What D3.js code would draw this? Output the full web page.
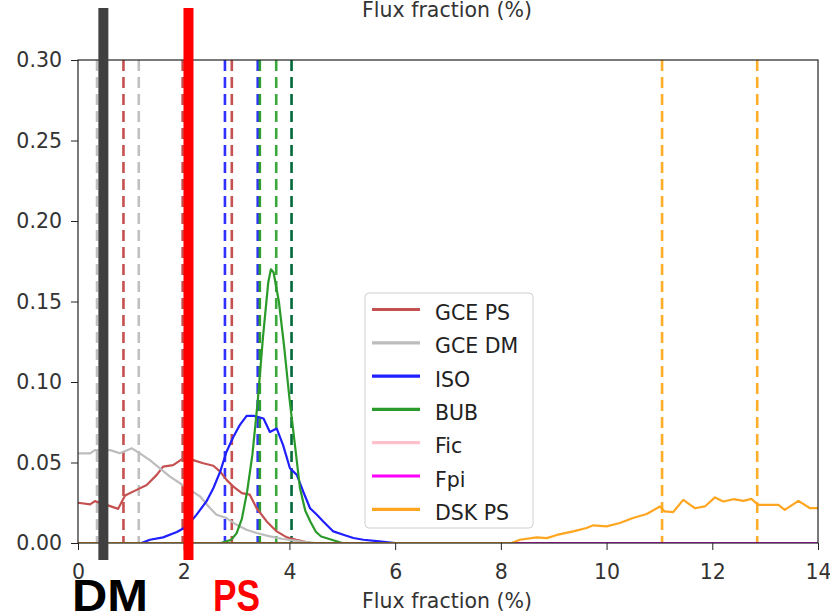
<!DOCTYPE html>
<html>
<head>
<meta charset="utf-8">
<script src="https://cdn.jsdelivr.net/npm/d3@7"></script>
<style>
  body { margin: 0; background: #fff; }
  svg { display: block; }
</style>
</head>
<body>
<script>
// Flux fraction (%) vs value, one curve per template: [x, y] pairs
const gcePS = [[0,0.025],[0.23,0.024],[0.32,0.026],[0.54,0.0237],[0.76,0.0212],[0.89,0.0295],[1.11,0.033],[1.3,0.036],[1.49,0.0423],[1.61,0.0474],[1.8,0.0484],[1.99,0.0526],[2.18,0.0515],[2.37,0.0495],[2.56,0.048],[2.69,0.0443],[2.81,0.0392],[2.94,0.035],[3.1,0.031],[3.25,0.03],[3.38,0.0216],[3.57,0.0134],[3.76,0.0072],[3.95,0.0035],[4.13,0.002],[4.4,0],[14,0]];
const gceDM = [[0,0.0557],[0.23,0.0557],[0.32,0.0577],[0.61,0.0577],[0.79,0.0557],[1.02,0.0588],[1.17,0.0557],[1.36,0.0515],[1.55,0.0464],[1.74,0.0412],[1.93,0.0371],[2.12,0.033],[2.31,0.0289],[2.5,0.0216],[2.62,0.0175],[2.81,0.0155],[3.0,0.0113],[3.19,0.0082],[3.38,0.0062],[3.63,0.0041],[3.88,0.0025],[4.2,0.001],[4.5,0],[14,0]];
const iso = [[0,0],[1.2,0],[1.36,0.002],[1.61,0.0035],[1.87,0.0068],[2.06,0.0103],[2.24,0.0175],[2.43,0.0258],[2.56,0.034],[2.69,0.0443],[2.81,0.0567],[2.94,0.066],[3.06,0.0732],[3.19,0.079],[3.32,0.079],[3.51,0.0773],[3.63,0.069],[3.76,0.0711],[3.88,0.0608],[4.01,0.0464],[4.14,0.0423],[4.26,0.032],[4.39,0.0216],[4.52,0.0175],[4.64,0.0134],[4.83,0.0072],[5.02,0.0051],[5.21,0.0031],[5.4,0.002],[5.7,0.001],[6.0,0],[14,0]];
const bub = [[0,0],[2.7,0],[2.9,0.002],[3.0,0.006],[3.1,0.015],[3.2,0.032],[3.3,0.055],[3.4,0.088],[3.5,0.128],[3.6,0.162],[3.65,0.17],[3.7,0.168],[3.8,0.15],[3.9,0.122],[4.0,0.09],[4.1,0.062],[4.2,0.034],[4.3,0.02],[4.4,0.013],[4.5,0.007],[4.6,0.004],[4.8,0.002],[5.0,0],[14,0]];
const fic = [[0,0],[14,0]];
const fpi = [[0,0],[14,0]];
const dskPS = [[0,0],[8.2,0],[8.36,0.002],[8.68,0.0035],[8.87,0.003],[9.06,0.005],[9.37,0.0072],[9.62,0.0093],[9.75,0.011],[10.0,0.0103],[10.25,0.0124],[10.5,0.0155],[10.76,0.018],[11.01,0.0227],[11.1,0.0196],[11.26,0.0192],[11.45,0.0268],[11.67,0.0216],[11.86,0.0227],[12.05,0.0283],[12.21,0.0258],[12.4,0.0272],[12.59,0.0262],[12.74,0.0274],[12.87,0.0237],[13.03,0.0237],[13.25,0.0237],[13.37,0.0206],[13.63,0.0262],[13.85,0.0216],[14,0.0216]];

const seriesNames = ["GCE PS", "GCE DM", "ISO", "BUB", "Fic", "Fpi", "DSK PS"];
const seriesData = [gcePS, gceDM, iso, bub, fic, fpi, dskPS];
const seriesColors = ["#c55050", "#bdbdbd", "#1f1fff", "#2a9a2a", "#ffc0cb", "#ff00ff", "#ffa51f"];

// dashed vertical markers (x position, colour)
const markerX = [0.36, 1.15, 0.86, 1.98, 2.91, 2.78, 3.40, 3.44, 3.75, 4.04, 11.05, 12.85];
const markerColors = ["#c0c0c0", "#c0c0c0", "#c55050", "#c55050", "#c55050", "#3030ff", "#3030ff", "#2f9f2f", "#3aa83a", "#00693a", "#ffae2a", "#ffae2a"];

// the two thick bars drawn over the chart
const barLabels = ["DM", "PS"];
const barX = [0.48, 2.09];
const barColors = ["#404040", "#ff0000"];
const labelColors = ["#000000", "#ff0000"];

const xTicks = [0, 2, 4, 6, 8, 10, 12, 14];
const yTicks = [0, 0.05, 0.10, 0.15, 0.20, 0.25, 0.30];

const width = 830, height = 616;
const mLeft = 78, mRight = 818, mTop = 60, mBottom = 543;

const svg = d3.select("body").append("svg")
    .attr("width", width)
    .attr("height", height)
    .style("font-family", "'DejaVu Sans', sans-serif");

const x = d3.scaleLinear().domain([0, 14]).range([mLeft, mRight]);
const y = d3.scaleLinear().domain([0, 0.30]).range([mBottom, mTop]);

svg.append("clipPath").attr("id", "clip")
    .append("rect")
    .attr("x", mLeft).attr("y", mTop)
    .attr("width", mRight - mLeft).attr("height", mBottom - mTop);

const plot = svg.append("g").attr("clip-path", "url(#clip)");

// dashed lines
plot.selectAll(".marker")
    .data(markerX)
    .enter()
    .append("line")
    .attr("class", "marker")
    .attr("x1", d => x(d)).attr("x2", d => x(d))
    .attr("y1", y(0.30)).attr("y2", y(0))
    .attr("stroke", (d, i) => markerColors[i])
    .attr("stroke-width", 2.6)
    .attr("stroke-dasharray", "11,6");

// curves
const line = d3.line().x(d => x(d[0])).y(d => y(d[1]));
plot.selectAll(".curve")
    .data(seriesData)
    .enter()
    .append("path")
    .attr("class", "curve")
    .attr("d", line)
    .attr("fill", "none")
    .attr("stroke", (d, i) => seriesColors[i])
    .attr("stroke-width", 2.2)
    .attr("stroke-linejoin", "round");

// axes
const xAxis = d3.axisBottom(x).tickValues(xTicks).tickFormat(d3.format("d")).tickSize(7).tickPadding(14);
const yAxis = d3.axisLeft(y).tickValues(yTicks).tickFormat(d3.format(".2f")).tickSize(7).tickPadding(9);

const gx = svg.append("g")
    .attr("transform", "translate(0," + mBottom + ")")
    .call(xAxis);
const gy = svg.append("g")
    .attr("transform", "translate(" + mLeft + ",0)")
    .call(yAxis);

[gx, gy].forEach(g => {
    g.select(".domain").remove();
    g.selectAll("line").attr("stroke", "#222");
    g.selectAll("text").style("font-size", "20.5px").attr("fill", "#333")
        .style("font-family", "'DejaVu Sans', sans-serif");
});

// frame
svg.append("rect")
    .attr("x", mLeft).attr("y", mTop)
    .attr("width", mRight - mLeft).attr("height", mBottom - mTop)
    .attr("fill", "none")
    .attr("stroke", "#222")
    .attr("stroke-width", 1.2);

// axis labels (top one is cut by the edge)
svg.append("text")
    .attr("x", 447).attr("y", 608)
    .attr("text-anchor", "middle")
    .style("font-size", "20.5px")
    .attr("fill", "#333")
    .text("Flux fraction (%)");

svg.append("text")
    .attr("x", 447).attr("y", 17)
    .attr("text-anchor", "middle")
    .style("font-size", "20.5px")
    .attr("fill", "#333")
    .text("Flux fraction (%)");

// legend
const legend = svg.append("g").attr("transform", "translate(365,293)");
legend.append("rect")
    .attr("width", 168).attr("height", 235)
    .attr("rx", 4)
    .attr("fill", "#fff").attr("fill-opacity", 0.85)
    .attr("stroke", "#d0d0d0");

const items = legend.selectAll(".legend-item")
    .data(seriesNames)
    .enter()
    .append("g")
    .attr("class", "legend-item")
    .attr("transform", (d, i) => "translate(0," + (16.5 + i * 33.3) + ")");

items.append("line")
    .attr("x1", 7).attr("x2", 55)
    .attr("stroke", (d, i) => seriesColors[i])
    .attr("stroke-width", 3.2);

items.append("text")
    .attr("x", 70).attr("y", 10.5)
    .style("font-size", "20.5px")
    .attr("fill", "#222")
    .text(d => d);

// thick bars and their labels
svg.selectAll(".bar")
    .data(barX)
    .enter()
    .append("rect")
    .attr("class", "bar")
    .attr("x", d => x(d) - 5)
    .attr("y", 8)
    .attr("width", 10)
    .attr("height", 552)
    .attr("fill", (d, i) => barColors[i]);

svg.selectAll(".bar-label")
    .data(barLabels)
    .enter()
    .append("text")
    .attr("class", "bar-label")
    .attr("x", (d, i) => i === 0 ? 72 : 213)
    .attr("y", 611)
    .attr("textLength", (d, i) => i === 0 ? 76 : 47)
    .attr("lengthAdjust", "spacingAndGlyphs")
    .style("font-family", "'Liberation Sans Narrow', 'Liberation Sans', sans-serif")
    .style("font-weight", "bold")
    .style("font-size", "44px")
    .attr("fill", (d, i) => labelColors[i])
    .text(d => d);
</script>
</body>
</html>
